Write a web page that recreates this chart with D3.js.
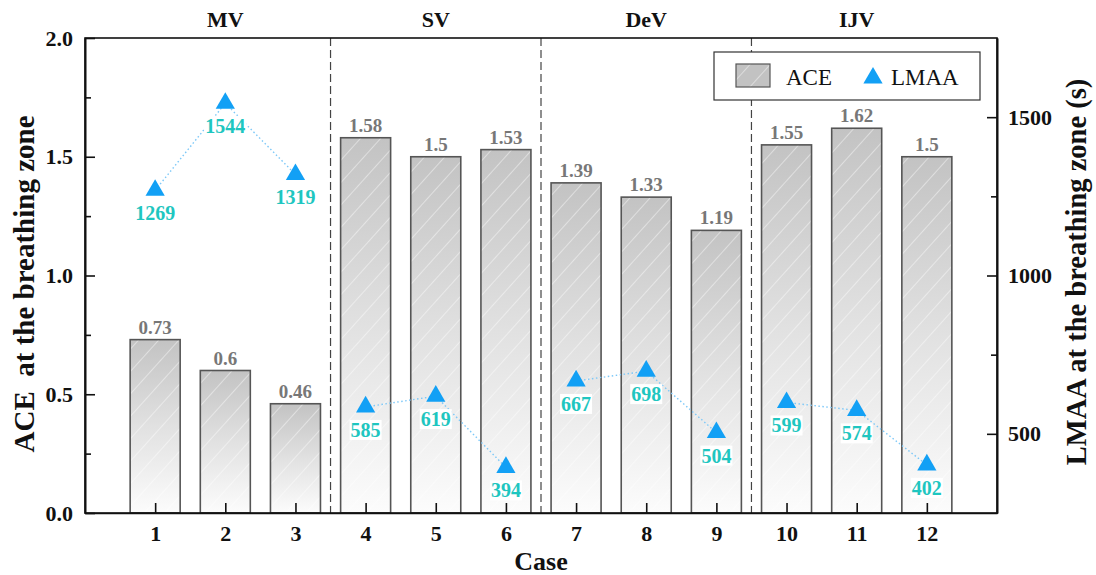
<!DOCTYPE html>
<html>
<head>
<meta charset="utf-8">
<script src="https://cdn.jsdelivr.net/npm/d3@7/dist/d3.min.js"></script>
<style>
  html, body { margin: 0; padding: 0; background: #fff; }
  svg { display: block; }
  text { font-family: "Liberation Serif", "Times New Roman", serif; }
</style>
</head>
<body>
<svg id="chart" width="1096" height="575"></svg>
<script>
// Case numbers and measured values
const cases = [1, 2, 3, 4, 5, 6, 7, 8, 9, 10, 11, 12];
const aceValues = [0.73, 0.6, 0.46, 1.58, 1.5, 1.53, 1.39, 1.33, 1.19, 1.55, 1.62, 1.5];
const aceLabels = ["0.73", "0.6", "0.46", "1.58", "1.5", "1.53", "1.39", "1.33", "1.19", "1.55", "1.62", "1.5"];
const lmaaValues = [1269, 1544, 1319, 585, 619, 394, 667, 698, 504, 599, 574, 402];

// Ventilation groups (three cases each)
const groupNames = ["MV", "SV", "DeV", "IJV"];
const groupCases = [[1, 2, 3], [4, 5, 6], [7, 8, 9], [10, 11, 12]];

// Axis ticks
const leftTicks = [0.0, 0.5, 1.0, 1.5, 2.0];
const leftMinor = [0.25, 0.75, 1.25, 1.75];
const rightTicks = [500, 1000, 1500];
const rightMinor = [750, 1250];

const svg = d3.select("#chart");
const m = { left: 85, right: 997, top: 38, bottom: 513 };

const x = d3.scaleLinear().domain([0, 13]).range([m.left, m.right]);
const yL = d3.scaleLinear().domain([0, 2]).range([m.bottom, m.top]);
const yR = d3.scaleLinear().domain([250, 1750]).range([m.bottom, m.top]);
const barW = 50;

const defs = svg.append("defs");
const grad = defs.append("linearGradient")
  .attr("id", "barGrad").attr("x1", 0).attr("y1", 0).attr("x2", 0).attr("y2", 1);
grad.append("stop").attr("offset", "0%").attr("stop-color", "#c3c3c3");
grad.append("stop").attr("offset", "50%").attr("stop-color", "#e1e1e1");
grad.append("stop").attr("offset", "100%").attr("stop-color", "#fcfcfc");

const hatch = defs.append("pattern")
  .attr("id", "hatch").attr("patternUnits", "userSpaceOnUse")
  .attr("width", 15).attr("height", 15)
  .attr("patternTransform", "rotate(42)");
hatch.append("line")
  .attr("x1", 0).attr("y1", 0).attr("x2", 0).attr("y2", 15)
  .attr("stroke", "#ffffff").attr("stroke-width", 1.1).attr("stroke-opacity", 0.8);

// Bars
const bars = svg.append("g");
cases.forEach((c, i) => {
  const bx = x(c) - barW / 2, by = yL(aceValues[i]), bh = yL(0) - yL(aceValues[i]);
  bars.append("rect").attr("x", bx).attr("y", by).attr("width", barW).attr("height", bh)
    .attr("fill", "url(#barGrad)");
  bars.append("rect").attr("x", bx).attr("y", by).attr("width", barW).attr("height", bh)
    .attr("fill", "url(#hatch)")
    .attr("stroke", "#555").attr("stroke-width", 1.6);
  bars.append("text").attr("x", x(c)).attr("y", by - 6)
    .attr("text-anchor", "middle").attr("font-size", 19).attr("font-weight", "bold")
    .attr("fill", "#777").text(aceLabels[i]);
});

// Group separators
[3.5, 6.5, 9.5].forEach(v => {
  svg.append("line").attr("x1", x(v)).attr("x2", x(v)).attr("y1", m.top).attr("y2", m.bottom)
    .attr("stroke", "#444").attr("stroke-width", 1.2).attr("stroke-dasharray", "8,4");
});

// Group names above the frame
groupNames.forEach((g, i) => {
  svg.append("text").attr("x", x(groupCases[i][1])).attr("y", 27)
    .attr("text-anchor", "middle").attr("font-size", 22).attr("font-weight", "bold")
    .attr("fill", "#111").text(g);
});

// LMAA dotted connectors
const line = d3.line().x(c => x(c)).y(c => yR(lmaaValues[c - 1]));
groupCases.forEach(gc => {
  svg.append("path").attr("d", line(gc)).attr("fill", "none")
    .attr("stroke", "#7cc8f8").attr("stroke-width", 1.4).attr("stroke-dasharray", "1.5,2.5");
});

// LMAA markers and labels
const tri = d3.symbol().type(d3.symbolTriangle).size(160);
const labels = svg.append("g");
cases.forEach((c, i) => {
  const px = x(c), py = yR(lmaaValues[i]);
  const t = labels.append("text").attr("x", px).attr("y", py + 30)
    .attr("text-anchor", "middle").attr("font-size", 20).attr("font-weight", "bold")
    .attr("fill", "#1fc6c0").text(lmaaValues[i]);
  const bb = t.node().getBBox();
  labels.insert("rect", () => t.node())
    .attr("x", bb.x - 1).attr("y", bb.y + 1).attr("width", bb.width + 2).attr("height", bb.height - 2)
    .attr("fill", "#fff");
  svg.append("path").attr("d", tri).attr("transform", `translate(${px},${py})`)
    .attr("fill", "#12a0f5");
});
labels.raise();

// Frame
svg.append("rect").attr("x", m.left).attr("y", m.top)
  .attr("width", m.right - m.left).attr("height", m.bottom - m.top)
  .attr("fill", "none").attr("stroke", "#111").attr("stroke-width", 1.6);

// Left axis
const leftAxis = svg.append("g").attr("transform", `translate(${m.left},0)`)
  .call(d3.axisLeft(yL).tickValues(leftTicks).tickFormat(d3.format(".1f")).tickSizeInner(-10).tickSizeOuter(0).tickPadding(12));
const leftMinorAxis = svg.append("g").attr("transform", `translate(${m.left},0)`)
  .call(d3.axisLeft(yL).tickValues(leftMinor).tickFormat("").tickSizeInner(-6).tickSizeOuter(0));

// Right axis
const rightAxis = svg.append("g").attr("transform", `translate(${m.right},0)`)
  .call(d3.axisRight(yR).tickValues(rightTicks).tickFormat(d3.format("d")).tickSizeInner(-10).tickSizeOuter(0).tickPadding(11));
const rightMinorAxis = svg.append("g").attr("transform", `translate(${m.right},0)`)
  .call(d3.axisRight(yR).tickValues(rightMinor).tickFormat("").tickSizeInner(-6).tickSizeOuter(0));

// Bottom axis
const bottomAxis = svg.append("g").attr("transform", `translate(0,${m.bottom})`)
  .call(d3.axisBottom(x).tickValues(cases).tickFormat(d3.format("d")).tickSizeInner(-10).tickSizeOuter(0).tickPadding(12));

[leftAxis, leftMinorAxis, rightAxis, rightMinorAxis, bottomAxis].forEach(a => {
  a.select(".domain").attr("stroke", "#111").attr("stroke-width", 1.6);
  a.selectAll(".tick line").attr("stroke", "#111").attr("stroke-width", 1.6);
  a.selectAll(".tick text").attr("font-family", "Liberation Serif, serif")
    .attr("font-size", 22).attr("font-weight", "bold").attr("fill", "#111");
});

// Axis titles
svg.append("text").attr("x", x(6.5)).attr("y", 570).attr("text-anchor", "middle")
  .attr("font-size", 26).attr("font-weight", "bold").attr("fill", "#111").text("Case");
svg.append("text").attr("transform", "translate(34,284) rotate(-90)").attr("text-anchor", "middle")
  .attr("font-size", 29).attr("font-weight", "bold").attr("fill", "#111")
  .attr("xml:space", "preserve").style("white-space", "pre").text("ACE  at the breathing zone");
svg.append("text").attr("transform", "translate(1086,272) rotate(-90)").attr("text-anchor", "middle")
  .attr("font-size", 28.5).attr("font-weight", "bold").attr("fill", "#111")
  .text("LMAA at the breathing zone (s)");

// Legend
const lg = svg.append("g");
lg.append("rect").attr("x", 714).attr("y", 52).attr("width", 266).attr("height", 48)
  .attr("fill", "#fff").attr("stroke", "#333").attr("stroke-width", 1.2);
lg.append("rect").attr("x", 736).attr("y", 64).attr("width", 34).attr("height", 23)
  .attr("fill", "#c2c2c2");
lg.append("rect").attr("x", 736).attr("y", 64).attr("width", 34).attr("height", 23)
  .attr("fill", "url(#hatch)").attr("stroke", "#555").attr("stroke-width", 1.2);
lg.append("text").attr("x", 786).attr("y", 85).attr("font-size", 23).attr("fill", "#111").text("ACE");
lg.append("path").attr("d", tri).attr("transform", "translate(873,78)").attr("fill", "#12a0f5");
lg.append("text").attr("x", 891).attr("y", 85).attr("font-size", 23).attr("fill", "#111").text("LMAA");
</script>
</body>
</html>
